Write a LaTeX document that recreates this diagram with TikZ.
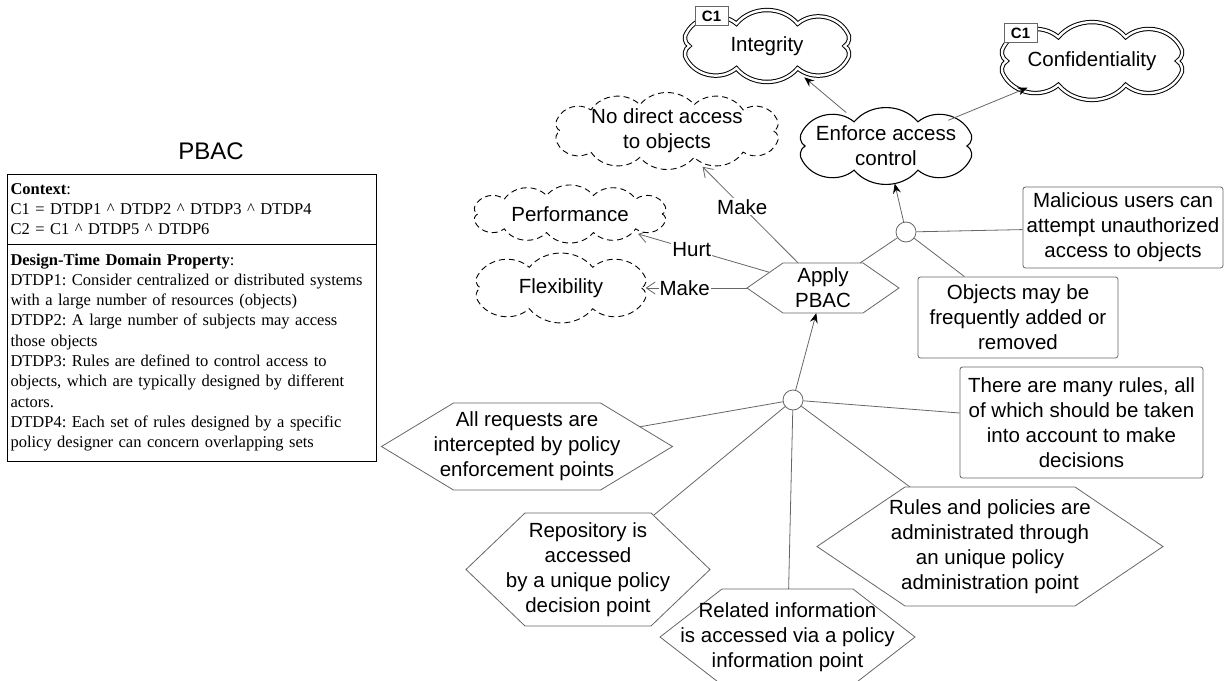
\documentclass[tikz,border=0pt]{standalone}
\usepackage{fontspec}
\setmainfont{Liberation Sans}
\newfontfamily\boxfont{Liberation Serif}
\usetikzlibrary{shapes.geometric,arrows.meta,positioning,backgrounds}
\frenchspacing

\definecolor{linegray}{HTML}{666666}
\newcommand{\goalfont}{\fontsize{20.5}{25}\selectfont}
\newcommand{\tagfont}{\bfseries\fontsize{15}{15}\selectfont}
\newcommand{\boxtext}{\boxfont\fontsize{16.5}{19.8}\selectfont}

\tikzset{
  softgoal/.style={draw, fill=white, line width=1.1pt},
  hardgoal/.style={draw, fill=white, double, double distance=2.4pt, line width=1pt},
  wishgoal/.style={draw, fill=white, line width=0.9pt, dash pattern=on 6pt off 4pt},
  goalanchor/.style={ellipse, inner xsep=-25pt, inner ysep=0pt, align=center, font=\goalfont},
  hexline/.style={draw=linegray, fill=white, line width=0.8pt},
  hexlabel/.style={inner sep=0pt, outer sep=0pt, align=center, font=\goalfont},
  domprop/.style={rectangle, rounded corners=2.5pt, draw=linegray, fill=white,
    line width=0.8pt, align=center, inner sep=0pt, font=\goalfont},
  andjoin/.style={circle, draw=linegray, fill=white, line width=0.8pt,
    minimum size=20pt, inner sep=0pt},
  ctxtag/.style={draw=linegray, fill=white, line width=0.8pt, font=\tagfont,
    minimum width=33pt, minimum height=19pt, inner sep=0pt},
  plainlink/.style={draw=linegray, line width=0.8pt},
  refine/.style={plainlink, -{Stealth[length=10pt, width=8pt, inset=3.5pt, color=black]}},
  contrib/.style={plainlink, -{Straight Barb[length=9pt, width=12pt]}},
  contriblabel/.style={fill=white, inner sep=1pt, font=\goalfont},
  infobox/.style={draw, line width=1pt, text width=362pt, inner xsep=3.5pt,
    inner ysep=0pt, outer sep=0pt, align=left, font=\boxtext},
}

% cloud goal: name, x, y, x-radius, y-radius, puffs, style, text
\newcommand{\goalcloud}[8]{%
  \pgfmathsetmacro{\puffstep}{360/#6}%
  \pgfmathsetmacro{\sidex}{0.97*cos(\puffstep)*#4}%
  \pgfmathsetmacro{\outw}{2*(cos(\puffstep)*#4+0.1*#5)-2}%
  \pgfmathsetmacro{\outh}{2*(cos(\puffstep/2)*#5+0.45*sin(\puffstep/2)*#4)-2}%
  \path[#7] (#2+\sidex,#3)
    \foreach \puff in {1,...,#6} {
      to[bend left=50] ({#2+(\puff==#6/2 ? -\sidex : (\puff==#6 ? \sidex : #4*cos(\puff*\puffstep)))},
                        {#3+#5*sin(\puff*\puffstep)})
    } -- cycle;
  \node[goalanchor, minimum width=\outw pt, minimum height=\outh pt] (#1) at (#2,#3) {#8};
}

% hexagonal task: name, centre, width, height, slant, text
\newcommand{\taskhex}[6]{%
  \path[hexline] (#2) ++(-#3/2,0) -- ++(#5,-#4/2) -- ++(#3-2*#5,0)
    -- ++(#5,#4/2) -- ++(-#5,#4/2) -- ++(-#3+2*#5,0) -- cycle;
  \node[hexlabel, minimum width=#3pt, minimum height=#4pt] (#1) at (#2) {#6};
}

\begin{document}
\begin{tikzpicture}[x=1pt, y=-1pt]
\useasboundingbox (0,0) rectangle (1231,680);

% context panel
\node[font=\fontsize{24}{24}\selectfont] (title) at (211,151) {PBAC};
\node[infobox, minimum height=70pt, anchor=north west] (ctx) at (7,174)
  {\textbf{Context}:\\
   C1 = DTDP1 \textasciicircum{} DTDP2 \textasciicircum{} DTDP3 \textasciicircum{} DTDP4\\
   C2 = C1 \textasciicircum{} DTDP5 \textasciicircum{} DTDP6};
\node[infobox, font=\boxfont\fontsize{16.5}{20.3}\selectfont, minimum height=217pt,
  below=0pt of ctx] (dtdp)
  {\textbf{Design-Time Domain Property}:\\
   DTDP1: Consider centralized or distributed systems\\
   with a large number of resources (objects)\\
   DTDP2: A large number of subjects may access\\
   those objects\\
   DTDP3: Rules are defined to control access to\\
   objects, which are typically designed by different\\
   actors.\\
   DTDP4: Each set of rules designed by a specific\\
   policy designer can concern overlapping sets};

% soft goals
\goalcloud{integrity}{767}{46}{99}{23.4}{10}{hardgoal}{Integrity}
\node[ctxtag] (inttag) at (711.5,16) {C1};
\goalcloud{confid}{1092}{61}{108.8}{25.1}{10}{hardgoal}{Confidentiality}
\node[ctxtag] (conftag) at (1020.5,33) {C1};
\goalcloud{enforce}{886}{146}{103.2}{25.4}{10}{softgoal}{Enforce access\\control}
\goalcloud{nodirect}{667}{131}{122}{27}{14}{wishgoal}{No direct access\\to objects}
\goalcloud{perf}{570}{214}{105.4}{19}{14}{wishgoal}{Performance}
\goalcloud{flex}{561}{288}{102.8}{21.8}{10}{wishgoal}{Flexibility}

% tasks
\taskhex{apply}{823,288}{152}{50}{36}{Apply\\PBAC}
\taskhex{intercept}{527,446.5}{291}{87}{72}{All requests are\\intercepted by policy\\enforcement points}
\taskhex{decision}{588,569.5}{244}{113}{59}{Repository is\\accessed\\by a unique policy\\decision point}
\taskhex{information}{787.5,637}{255}{96}{62}{Related information\\is accessed via a policy\\information point}
\taskhex{administration}{990,546.5}{346}{119}{88}{Rules and policies are\\administrated through\\an unique policy\\administration point}

% domain properties
\node[domprop, minimum width=200pt, minimum height=81pt] (malicious) at (1123,227.5)
  {Malicious users can\\attempt unauthorized\\access to objects};
\node[domprop, minimum width=200pt, minimum height=81pt] (objects) at (1018,317.5)
  {Objects may be\\frequently added or\\removed};
\node[domprop, minimum width=243pt, minimum height=111pt] (manyrules) at (1081.5,422.5)
  {There are many rules, all\\of which should be taken\\into account to make\\decisions};

% and-refinements
\node[andjoin] (andtop) at (906,232) {};
\node[andjoin] (andlow) at (793,400) {};

\begin{scope}[on background layer]
\draw[plainlink] (andtop) -- (apply.center);
\draw[plainlink] (andtop) -- (malicious);
\draw[plainlink] (andtop) -- (objects);
\draw[refine] (andlow) -- (apply);
\draw[plainlink] (andlow) -- (intercept.center);
\draw[plainlink] (andlow) -- (decision.center);
\draw[plainlink] (andlow) -- (information.center);
\draw[plainlink] (andlow) -- (administration.center);
\draw[plainlink] (andlow) -- (manyrules);
% contributions
\draw[contrib] (apply.center) -- (nodirect) node[contriblabel, pos=0.67] {Make};
\draw[contrib] (apply.center) -- (perf) node[contriblabel, pos=0.71] {Hurt};
\draw[contrib] (apply.center) -- (flex) node[contriblabel, pos=0.78] {Make};
\end{scope}

\draw[refine] (enforce) -- (integrity);
\draw[refine] (enforce) -- (confid);
\draw[refine] (andtop) -- (enforce);
\end{tikzpicture}
\end{document}
